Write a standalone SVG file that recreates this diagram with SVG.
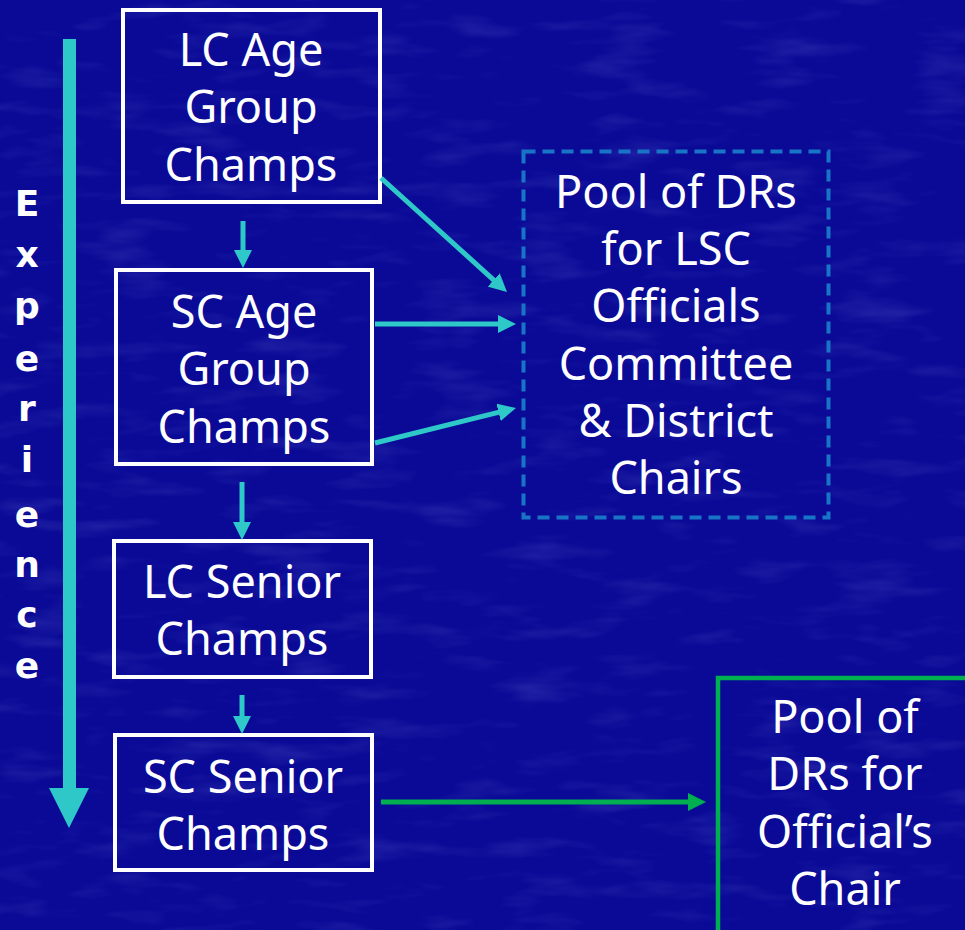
<svg xmlns="http://www.w3.org/2000/svg" width="965" height="930" viewBox="0 0 965 930">
<defs>
<style>
.lbl{font-family:"Noto Sans","DejaVu Sans",sans-serif;font-size:45px;fill:#ffffff;text-anchor:middle}
.box{fill:none;stroke:#ffffff;stroke-width:4}
.tl{stroke:#2ec8c8;stroke-width:5;fill:none}
.exp{font-family:"DejaVu Sans",sans-serif;font-size:36px;font-weight:bold;fill:#ffffff;text-anchor:middle}
</style>
<marker id="ta" markerWidth="18" markerHeight="18" refX="8" refY="9" orient="auto" markerUnits="userSpaceOnUse"><path d="M0,0 L18,9 L0,18 z" fill="#2ec8c8"/></marker>
<marker id="ga" markerWidth="18" markerHeight="18" refX="8" refY="9" orient="auto" markerUnits="userSpaceOnUse"><path d="M0,0 L18,9 L0,18 z" fill="#00b050"/></marker>
<filter id="tex" x="0" y="0" width="100%" height="100%">
<feTurbulence type="fractalNoise" baseFrequency="0.012 0.05" numOctaves="3" seed="4"/>
<feColorMatrix type="matrix" values="0 0 0 0 0.5  0 0 0 0 0.55  0 0 0 0 1  0 0 0 1.2 -0.62"/>
</filter>
</defs>
<rect x="0" y="0" width="965" height="930" fill="#0a0a97"/>
<rect x="0" y="0" width="965" height="930" filter="url(#tex)" opacity="0.25"/>

<g id="experience">
<rect x="63" y="39" width="13" height="751" fill="#2ec8c8"/>
<polygon points="49,788 89,788 69,828" fill="#2ec8c8"/>
<text class="exp"><tspan x="27" y="216">E</tspan><tspan x="27" y="267">x</tspan><tspan x="27" y="318">p</tspan><tspan x="27" y="371">e</tspan><tspan x="27" y="421">r</tspan><tspan x="27" y="472">i</tspan><tspan x="27" y="527">e</tspan><tspan x="27" y="577">n</tspan><tspan x="27" y="627">c</tspan><tspan x="27" y="678">e</tspan></text>
</g>

<g id="lc-age">
<rect class="box" x="123" y="10" width="257" height="192"/>
<text class="lbl"><tspan x="251" y="66">LC Age</tspan><tspan x="251" y="123">Group</tspan><tspan x="251" y="181">Champs</tspan></text>
</g>

<g id="sc-age">
<rect class="box" x="116" y="270" width="256" height="194"/>
<text class="lbl"><tspan x="244" y="328">SC Age</tspan><tspan x="244" y="385">Group</tspan><tspan x="244" y="443">Champs</tspan></text>
</g>

<g id="lc-senior">
<rect class="box" x="114" y="541" width="257" height="136"/>
<text class="lbl"><tspan x="242" y="598">LC Senior</tspan><tspan x="242" y="655">Champs</tspan></text>
</g>

<g id="sc-senior">
<rect class="box" x="115" y="735" width="257" height="135"/>
<text class="lbl"><tspan x="243" y="793">SC Senior</tspan><tspan x="243" y="850">Champs</tspan></text>
</g>

<g id="pool-lsc">
<rect x="523.5" y="151.5" width="305" height="366" fill="none" stroke="#1874c6" stroke-width="4" stroke-dasharray="12 7"/>
<text class="lbl"><tspan x="676" y="208">Pool of DRs</tspan><tspan x="676" y="265">for LSC</tspan><tspan x="676" y="322">Officials</tspan><tspan x="676" y="380">Committee</tspan><tspan x="676" y="437">&amp; District</tspan><tspan x="676" y="494">Chairs</tspan></text>
</g>

<g id="pool-chair">
<rect x="718" y="678" width="260" height="270" fill="none" stroke="#00b050" stroke-width="4.5"/>
<text class="lbl"><tspan x="845" y="733">Pool of</tspan><tspan x="845" y="790">DRs for</tspan><tspan x="845" y="848">Official’s</tspan><tspan x="845" y="905">Chair</tspan></text>
</g>

<g id="connectors">
<line class="tl" x1="243" y1="221" x2="243" y2="258" marker-end="url(#ta)"/>
<line class="tl" x1="242" y1="482" x2="242" y2="530" marker-end="url(#ta)"/>
<line class="tl" x1="242" y1="695" x2="242" y2="724" marker-end="url(#ta)"/>
<line class="tl" x1="381" y1="178" x2="499.6" y2="285.3" marker-end="url(#ta)"/>
<line class="tl" x1="375" y1="324" x2="506" y2="324" marker-end="url(#ta)"/>
<line class="tl" x1="375" y1="443" x2="506.3" y2="410.4" marker-end="url(#ta)"/>
<line x1="381" y1="802" x2="696" y2="802" stroke="#00b050" stroke-width="5" marker-end="url(#ga)"/>
</g>
</svg>
